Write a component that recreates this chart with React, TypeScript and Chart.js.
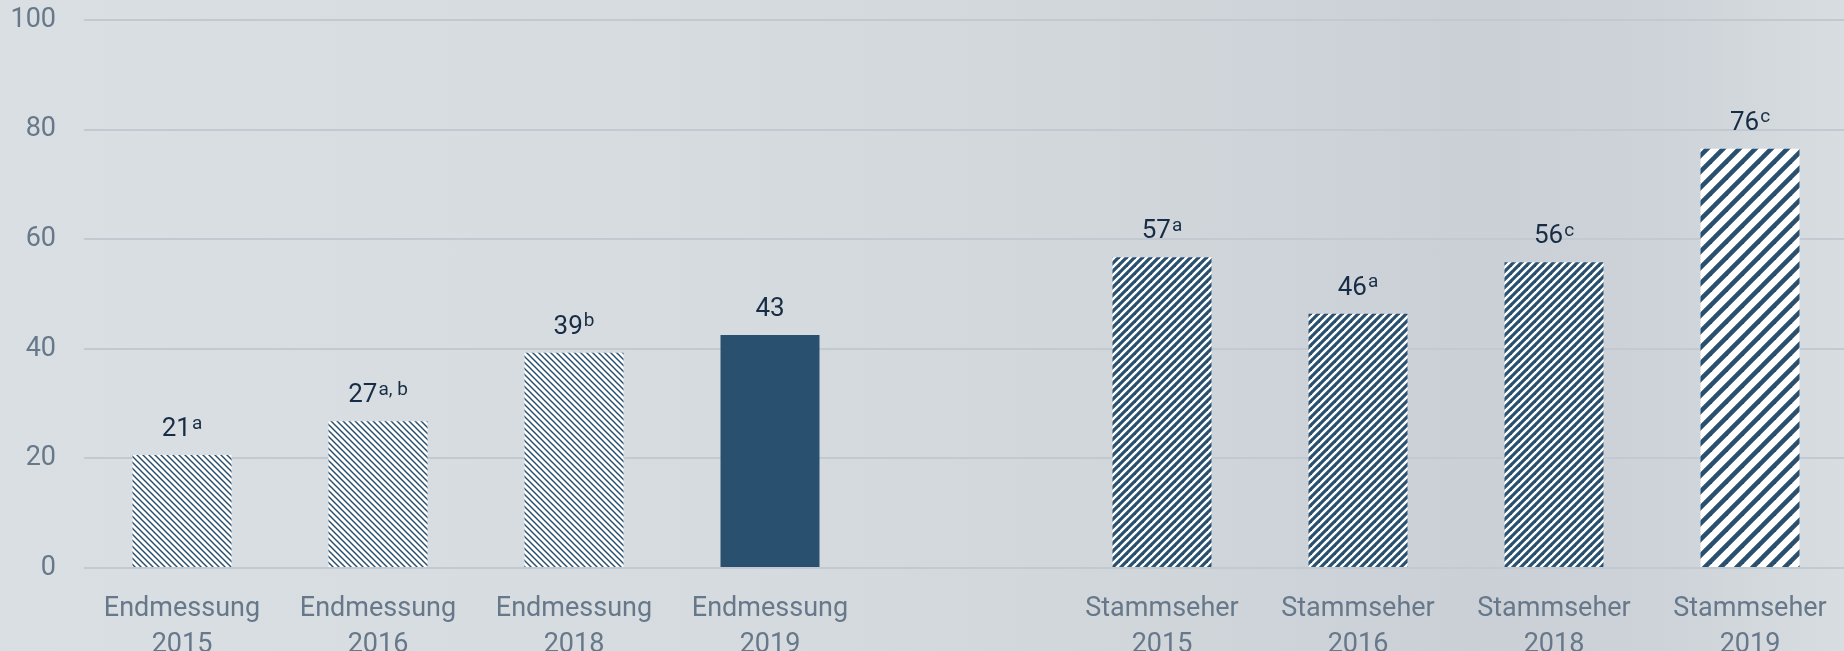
import React, { useEffect, useRef } from "react";
import { Chart, registerables } from "chart.js";

Chart.register(...registerables);

// ---------- data ----------
const categories: (string | string[])[] = [
  ["Endmessung", "2015"],
  ["Endmessung", "2016"],
  ["Endmessung", "2018"],
  ["Endmessung", "2019"],
  "",
  ["Stammseher", "2015"],
  ["Stammseher", "2016"],
  ["Stammseher", "2018"],
  ["Stammseher", "2019"],
];
const barValues: (number | null)[] = [20.6, 26.8, 39.3, 42.5, null, 56.7, 46.4, 55.8, 76.5];
const valueLabels = ["21", "27", "39", "43", "", "57", "46", "56", "76"];
const superscripts = ["a", "a, b", "b", "", "", "a", "a", "c", "c"];
const fillKinds = ["fine", "fine", "fine", "solid", "none", "medium", "medium", "medium", "wide"];
const yMin = 0;
const yMax = 100;
const yStep = 20;

// ---------- styles ----------
const NAVY = "#2a5070";
const VALUE_COLOR = "#172d45";
const TICK_COLOR = "#66788a";
const GRID_COLOR = "#c3c9d0";
const FONT = "Roboto, 'Noto Sans', sans-serif";

function makePattern(ctx: CanvasRenderingContext2D, kind: string): CanvasPattern | string {
  if (kind === "solid") return NAVY;
  if (kind === "none") return "rgba(0,0,0,0)";
  let p = 6;
  let w = 1.5;
  let dir = "\\";
  if (kind === "medium") {
    p = 8;
    w = 3.2;
    dir = "/";
  } else if (kind === "wide") {
    p = 16;
    w = 4.6;
    dir = "/";
  }
  const c = document.createElement("canvas");
  c.width = p;
  c.height = p;
  const g = c.getContext("2d")!;
  g.fillStyle = "#ffffff";
  g.fillRect(0, 0, p, p);
  g.strokeStyle = NAVY;
  g.lineWidth = w;
  for (const off of [-p, 0, p]) {
    g.beginPath();
    if (dir === "/") {
      g.moveTo(off - p, 2 * p);
      g.lineTo(off + 2 * p, -p);
    } else {
      g.moveTo(off - p, -p);
      g.lineTo(off + 2 * p, 2 * p);
    }
    g.stroke();
  }
  return ctx.createPattern(c, "repeat")!;
}

const valueLabelPlugin = {
  id: "valueLabels",
  afterDatasetsDraw(chart: any) {
    const ctx: CanvasRenderingContext2D = chart.ctx;
    const meta = chart.getDatasetMeta(0);
    const MAIN = 26;
    const SUP = 19;
    const GAP = 1;
    meta.data.forEach((bar: any, i: number) => {
      const main = valueLabels[i];
      if (!main) return;
      const sup = superscripts[i];
      ctx.save();
      ctx.textBaseline = "alphabetic";
      ctx.textAlign = "left";
      ctx.font = `400 ${MAIN}px ${FONT}`;
      const mw = ctx.measureText(main).width;
      ctx.font = `400 ${SUP}px ${FONT}`;
      const sw = sup ? ctx.measureText(sup).width + GAP : 0;
      const total = mw + sw;
      const x0 = bar.x - total / 2;
      const baseline = bar.y - 19;
      ctx.fillStyle = VALUE_COLOR;
      ctx.font = `400 ${MAIN}px ${FONT}`;
      ctx.fillText(main, x0, baseline);
      if (sup) {
        ctx.font = `400 ${SUP}px ${FONT}`;
        ctx.fillText(sup, x0 + mw + GAP, baseline - 7.5);
      }
      ctx.restore();
    });
  },
};

export default function App() {
  const canvasRef = useRef<HTMLCanvasElement | null>(null);

  useEffect(() => {
    document.body.style.margin = "0";
    const canvas = canvasRef.current!;
    const ctx = canvas.getContext("2d")!;
    const bg = fillKinds.map((k) => makePattern(ctx, k));
    const chart = new Chart(canvas, {
      type: "bar",
      data: {
        labels: categories,
        datasets: [
          {
            data: barValues,
            backgroundColor: bg as any,
            borderWidth: 0,
            barPercentage: 0.505,
            categoryPercentage: 1,
          },
        ],
      },
      options: {
        animation: false,
        responsive: false,
        events: [],
        layout: { padding: { top: 20, left: 0, right: 0, bottom: 0 } },
        plugins: {
          legend: { display: false },
          tooltip: { enabled: false },
        },
        scales: {
          x: {
            grid: { display: false, drawTicks: false },
            border: { display: false },
            ticks: {
              color: TICK_COLOR,
              font: { family: FONT, size: 27, lineHeight: 36 / 27 },
              padding: 23,
              maxRotation: 0,
              autoSkip: false,
            },
            afterFit: (scale: any) => {
              scale.height = 83;
              scale.paddingLeft = 0;
              scale.paddingRight = 0;
            },
          },
          y: {
            min: yMin,
            max: yMax,
            grid: { color: GRID_COLOR, lineWidth: 2, drawTicks: false },
            border: { display: false },
            ticks: {
              stepSize: yStep,
              color: TICK_COLOR,
              font: { family: FONT, size: 27 },
              padding: 28,
            },
            afterFit: (scale: any) => {
              scale.width = 84;
              scale.paddingTop = 0;
              scale.paddingBottom = 0;
            },
          },
        },
      },
      plugins: [valueLabelPlugin],
    });
    return () => chart.destroy();
  }, []);

  return (
    <div
      style={{
        position: "fixed",
        left: 0,
        top: 0,
        width: 1844,
        height: 651,
        overflow: "hidden",
        background:
          "linear-gradient(to right, #dadfe3 0%, #d6dbdf 40%, #d1d6db 62%, #cbd0d7 80%, #ced3d9 90%, #d8dde1 100%)",
      }}
    >
      <canvas ref={canvasRef} width={1848} height={651} style={{ display: "block" }} />
    </div>
  );
}
